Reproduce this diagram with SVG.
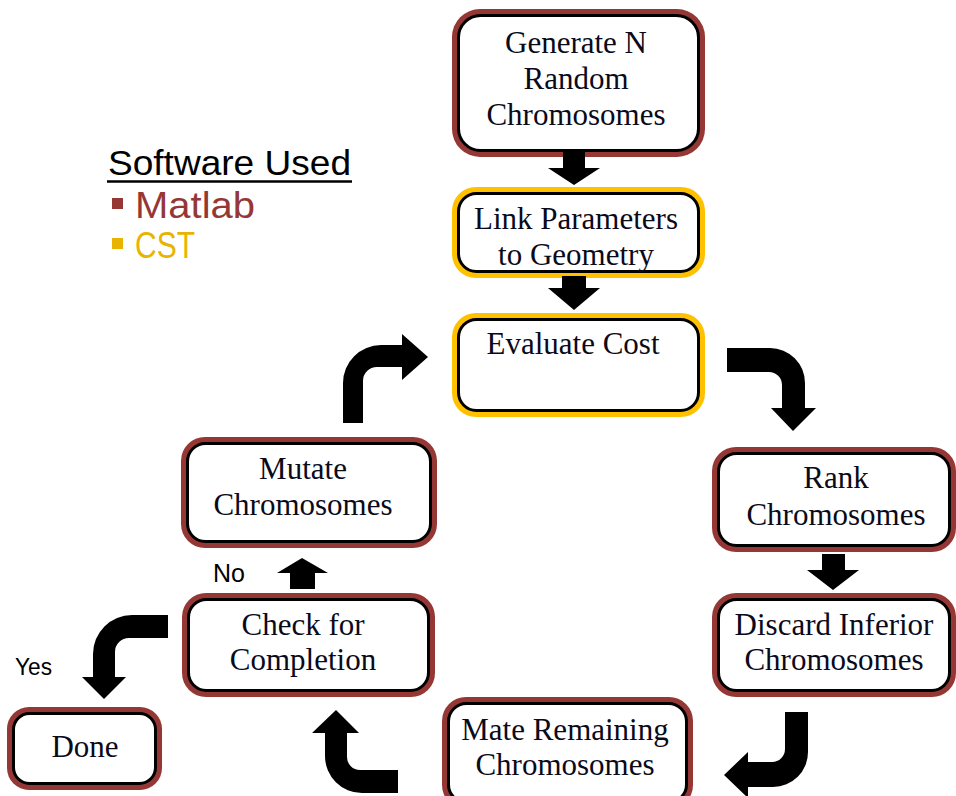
<svg xmlns="http://www.w3.org/2000/svg" width="956" height="796" viewBox="0 0 956 796">
  <style>
    .mo { fill: #953735; }
    .go { fill: #FFC000; }
    .in { fill: #ffffff; stroke: #000000; stroke-width: 3; }
    .t  { font-family: "Liberation Serif", "Times New Roman", serif; font-size: 31px; fill: #0a0a1a; text-anchor: middle; }
    .s  { font-family: "Liberation Sans", Arial, sans-serif; }
    .arrow { fill: #000000; }
  </style>

  <rect width="956" height="796" fill="#ffffff"/>

  <!-- legend -->
  <g id="legend">
    <text class="s" x="108" y="175" font-size="35" fill="#000000" textLength="243" lengthAdjust="spacingAndGlyphs">Software Used</text>
    <line x1="107" y1="181.5" x2="352" y2="181.5" stroke="#000000" stroke-width="2.5"/>
    <rect x="112" y="198" width="11" height="11" fill="#953735"/>
    <text class="s" x="135" y="218" font-size="36" fill="#953735" textLength="120" lengthAdjust="spacingAndGlyphs">Matlab</text>
    <rect x="112" y="238" width="11" height="11" fill="#E8B400"/>
    <text class="s" x="135" y="258" font-size="36" fill="#E8B400" textLength="60" lengthAdjust="spacingAndGlyphs">CST</text>
  </g>

  <!-- process boxes -->
  <g id="generate">
    <rect class="mo" x="452" y="9" width="253" height="148" rx="28"/>
    <rect class="in" x="458.5" y="15.5" width="240" height="135" rx="22"/>
    <text class="t" x="576" y="53">Generate N</text>
    <text class="t" x="576" y="89">Random</text>
    <text class="t" x="576" y="125">Chromosomes</text>
  </g>

  <g id="link">
    <rect class="go" x="452" y="187" width="253" height="91" rx="24"/>
    <rect class="in" x="458.5" y="193.5" width="240" height="78" rx="18"/>
    <text class="t" x="576" y="229">Link Parameters</text>
    <text class="t" x="576" y="265">to Geometry</text>
  </g>

  <g id="evaluate">
    <rect class="go" x="452" y="313" width="253" height="104" rx="24"/>
    <rect class="in" x="458.5" y="319.5" width="240" height="91" rx="18"/>
    <text class="t" x="573" y="354">Evaluate Cost</text>
  </g>

  <g id="rank">
    <rect class="mo" x="712" y="447" width="244" height="105" rx="24"/>
    <rect class="in" x="718.5" y="453.5" width="231" height="92" rx="18"/>
    <text class="t" x="836" y="488">Rank</text>
    <text class="t" x="836" y="525">Chromosomes</text>
  </g>

  <g id="discard">
    <rect class="mo" x="712" y="593" width="244" height="104" rx="24"/>
    <rect class="in" x="718.5" y="599.5" width="231" height="91" rx="18"/>
    <text class="t" x="834" y="635">Discard Inferior</text>
    <text class="t" x="834" y="670">Chromosomes</text>
  </g>

  <g id="mate">
    <rect class="mo" x="442" y="697" width="251" height="112" rx="24"/>
    <rect class="in" x="448.5" y="703.5" width="238" height="99" rx="18"/>
    <text class="t" x="565" y="740">Mate Remaining</text>
    <text class="t" x="565" y="775">Chromosomes</text>
  </g>

  <g id="check">
    <rect class="mo" x="182" y="593" width="253" height="104" rx="24"/>
    <rect class="in" x="188.5" y="599.5" width="240" height="91" rx="18"/>
    <text class="t" x="303" y="635">Check for</text>
    <text class="t" x="303" y="670">Completion</text>
  </g>

  <g id="mutate">
    <rect class="mo" x="181" y="437" width="256" height="111" rx="24"/>
    <rect class="in" x="187.5" y="443.5" width="243" height="98" rx="18"/>
    <text class="t" x="303" y="479">Mutate</text>
    <text class="t" x="303" y="515">Chromosomes</text>
  </g>

  <g id="done">
    <rect class="mo" x="7" y="707" width="155" height="83" rx="22"/>
    <rect class="in" x="13.5" y="713.5" width="142" height="70" rx="16"/>
    <text class="t" x="85" y="757">Done</text>
  </g>

  <!-- connectors -->
  <g id="connectors">
    <path class="arrow" d="M563,152 H585 V168 H600 L574,185 L548,168 H563 Z"/>
    <path class="arrow" d="M562,276 H586 V288 H600 L574,310 L548,288 H562 Z"/>
    <path class="arrow" d="M727,348 H770 A35,35 0 0 1 805,383 V408 H816 L793,431 L771,408 H782 V385 A13,13 0 0 0 769,372 H727 Z"/>
    <path class="arrow" d="M822,554 H845 V570 H859 L833,590 L807,570 H822 Z"/>
    <path class="arrow" d="M785,712 H808 V752 A35,35 0 0 1 773,787 H748 V798 L724,775 L748,752 V762 H772 A13,13 0 0 0 785,749 Z"/>
    <path class="arrow" d="M398,770 V793 H362 A37,37 0 0 1 325,756 V733 H312 L336,710 L359,733 H347 V757 A13,13 0 0 0 360,770 Z"/>
    <path class="arrow" d="M290,589 V573 H277 L302,558 L328,573 H315 V589 Z"/>
    <path class="arrow" d="M343,423 V383 A38,38 0 0 1 381,345 H402 V334 L428,357 L402,380 V367 H377 A14,14 0 0 0 363,381 V423 Z"/>
    <path class="arrow" d="M168,615 V638 H129 A14,14 0 0 0 115,652 V677 H126 L104,699 L82,677 H93 V654 A39,39 0 0 1 132,615 Z"/>
  </g>

  <!-- branch labels -->
  <g id="labels">
    <text class="s" x="213" y="582" font-size="25" fill="#000000">No</text>
    <text class="s" x="15" y="675" font-size="23" fill="#000000" textLength="37" lengthAdjust="spacingAndGlyphs">Yes</text>
  </g>
</svg>
